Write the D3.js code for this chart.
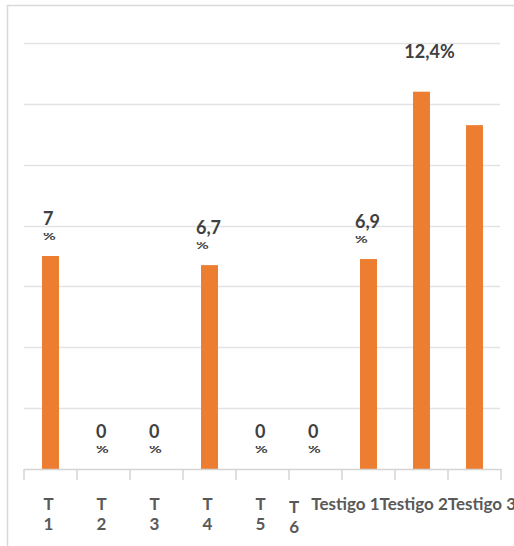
<!DOCTYPE html>
<html>
<head>
<meta charset="utf-8">
<script src="https://cdn.jsdelivr.net/npm/d3@7/dist/d3.min.js"></script>
<style>
  html, body { margin: 0; padding: 0; background: #fff; overflow: hidden; }
  svg { display: block; }
  text { font-family: Lato, "Open Sans", sans-serif; font-weight: 700; }
</style>
</head>
<body>
<script>
// Treatments and the share (%) measured for each one
const categories = ["T 1", "T 2", "T 3", "T 4", "T 5", "T 6", "Testigo 1", "Testigo 2", "Testigo 3"];
const values = [7, 0, 0, 6.7, 0, 0, 6.9, 12.4, 11.3];
const valueLabels = ["7%", "0%", "0%", "6,7%", "0%", "0%", "6,9%", "12,4%", null];
const yTicks = [0, 2, 4, 6, 8, 10, 12, 14];

const W = 514, H = 546;
const svg = d3.select("body").append("svg").attr("width", W).attr("height", H);

// chart area frame
svg.append("rect")
  .attr("x", 7.5).attr("y", 5.5).attr("width", 530).attr("height", 560)
  .attr("fill", "none").attr("stroke", "#d9d9d9").attr("stroke-width", 1.5);

const plotLeft = 24, plotRight = 501, plotTop = 43, plotBottom = 469;

const x = d3.scaleBand().domain(categories).range([plotLeft, plotRight])
  .paddingInner(0.68).paddingOuter(0.34);
const y = d3.scaleLinear().domain([0, 14]).range([plotBottom, plotTop]);

// horizontal gridlines
svg.append("g").selectAll("line")
  .data(yTicks.filter(d => d > 0))
  .join("line")
  .attr("x1", plotLeft).attr("x2", plotRight - 1)
  .attr("y1", d => Math.round(y(d)) + 0.5).attr("y2", d => Math.round(y(d)) + 0.5)
  .attr("stroke", "#e3e3e3").attr("stroke-width", 1.6);

// bars
svg.append("g").selectAll("rect")
  .data(categories.map((c, i) => ({ c, v: values[i] })))
  .join("rect")
  .attr("x", d => x(d.c)).attr("width", x.bandwidth())
  .attr("y", d => y(d.v)).attr("height", d => y(0) - y(d.v))
  .attr("fill", "#ED7D31");

// category axis: baseline plus boundary ticks between categories
const axis = svg.append("g");
axis.append("line")
  .attr("x1", plotLeft).attr("x2", plotRight).attr("y1", plotBottom + 0.5).attr("y2", plotBottom + 0.5)
  .attr("stroke", "#d4d4d4").attr("stroke-width", 1.5);
const step = x.step();
const bounds = d3.range(categories.length + 1).map(i => plotLeft + i * step);
axis.selectAll("line.tick").data(bounds).join("line").attr("class", "tick")
  .attr("x1", d => d).attr("x2", d => d)
  .attr("y1", plotBottom).attr("y2", plotBottom + 11)
  .attr("stroke", "#d4d4d4").attr("stroke-width", 1.5);

// category labels: short ones wrap onto two lines, long ones are packed from the right edge
const labelG = svg.append("g").attr("fill", "#595959").attr("font-size", 17);
const lineY1 = 510, lineY2 = 530;
const longIdx = categories.map((c, i) => i).filter(i => categories[i].length > 4);
let edge = 516;
const longStarts = {};
longIdx.slice().reverse().forEach(i => {
  const t = labelG.append("text").attr("y", lineY1).attr("text-anchor", "end")
    .attr("x", edge).text(categories[i]);
  const w = t.node().getComputedTextLength();
  longStarts[i] = edge - w;
  edge -= w;
});
categories.forEach((c, i) => {
  if (longIdx.includes(i)) return;
  const parts = c.split(" ");
  let cx = x(c) + x.bandwidth() / 2 - 2;
  const t = labelG.append("text").attr("text-anchor", "middle");
  const t1 = t.append("tspan").text(parts[0]);
  const t2 = t.append("tspan").text(parts[1]);
  const w = Math.max(t1.node().getComputedTextLength(), t2.node().getComputedTextLength());
  // keep clear of a packed label on the right
  const next = longStarts[i + 1];
  let dy = 0;
  if (next !== undefined && cx + w / 2 > next - 6) { cx = next - 6 - w / 2 - 6; dy = 3; }
  t1.attr("x", cx).attr("y", lineY1 + dy);
  t2.attr("x", cx).attr("y", lineY2 + dy);
});

// value labels above bars; narrow labels break before the % sign,
// with the second line squeezed up under the first
const defs = svg.append("defs");
const vl = svg.append("g").attr("fill", "#404040").attr("font-size", 18);
values.forEach((v, i) => {
  const lab = valueLabels[i];
  if (!lab) return;
  const cx = x(categories[i]) + x.bandwidth() / 2;
  const barTop = y(v);
  if (v === d3.max(values)) {
    vl.append("text").attr("x", cx + 8).attr("y", barTop - 34)
      .attr("text-anchor", "middle").text(lab);
    return;
  }
  const num = lab.replace("%", "");
  const base = barTop - 31;
  const a = vl.append("text").attr("y", base).text(num);
  const clipId = "clip" + i;
  defs.append("clipPath").attr("id", clipId).append("rect")
    .attr("x", 0).attr("width", W).attr("y", base + 8).attr("height", 10);
  const b = vl.append("text").attr("y", base + 15).attr("font-size", 12)
    .attr("transform", `translate(0,0)`)
    .attr("clip-path", `url(#${clipId})`).text("%");
  const wa = a.node().getComputedTextLength();
  const wb = b.node().getComputedTextLength() * 1.3;
  const w = Math.max(wa, wb);
  const x0 = cx - w / 2 - 1;
  a.attr("x", x0);
  // stretch the % sideways so it keeps the width of the first line's glyphs
  b.attr("x", 0).attr("transform", `translate(${x0},0) scale(1.3,1)`);
});
</script>
</body>
</html>
